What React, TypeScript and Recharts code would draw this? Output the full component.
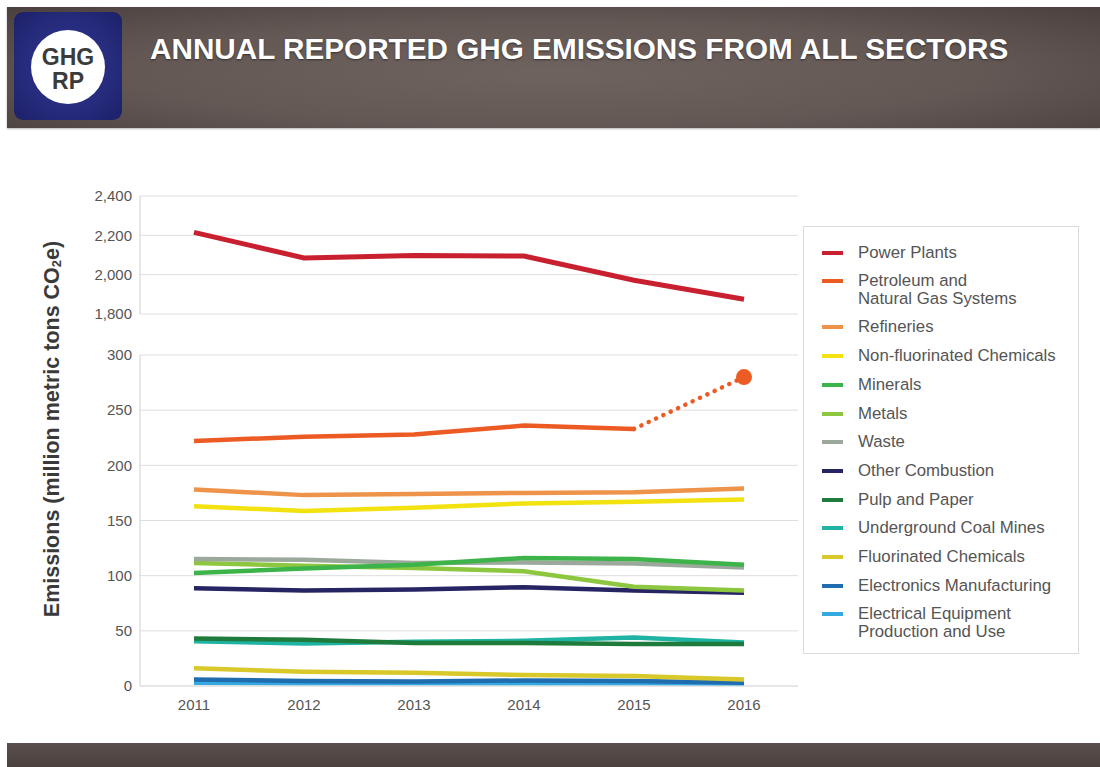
import React from 'react';
import { LineChart, Line, XAxis, YAxis, CartesianGrid } from 'recharts';

const years = ['2011', '2012', '2013', '2014', '2015', '2016'];

const powerPlants = [2215, 2085, 2097, 2095, 1972, 1875];
const petroleum = [222, 226, 228, 236, 233, null];
const petroleumAdded = [null, null, null, null, 233, 280];
const refineries = [178, 173, 174, 175, 175.5, 179];
const nonFluorinated = [163, 158.5, 161.5, 165.5, 167, 169];
const minerals = [102.5, 106.5, 110, 116, 115, 110];
const metals = [111.5, 109, 107, 104, 90, 86.5];
const waste = [115, 114.5, 111.5, 112, 111, 107.5];
const otherCombustion = [88.5, 86.5, 87.5, 89.5, 86.5, 84.5];
const pulpPaper = [43, 42, 39, 39, 38, 38];
const coalMines = [40.5, 38.5, 40, 41, 44, 39.5];
const fluorinated = [16, 13, 12, 10, 9, 6];
const electronics = [6, 4.5, 4, 5, 4.5, 3];
const electrical = [3, 2.5, 2.5, 2.5, 2.5, 2];

const topTicks = [1800, 2000, 2200, 2400];
const bottomTicks = [0, 50, 100, 150, 200, 250, 300];

const series = [
  { key: 'powerPlants', name: 'Power Plants', color: '#c8202f' },
  { key: 'petroleum', name: 'Petroleum and\nNatural Gas Systems', color: '#ec5b24' },
  { key: 'refineries', name: 'Refineries', color: '#ee934a' },
  { key: 'nonFluorinated', name: 'Non-fluorinated Chemicals', color: '#f2e20f' },
  { key: 'minerals', name: 'Minerals', color: '#3cb44a' },
  { key: 'metals', name: 'Metals', color: '#8dc63f' },
  { key: 'waste', name: 'Waste', color: '#9ba89b' },
  { key: 'otherCombustion', name: 'Other Combustion', color: '#272463' },
  { key: 'pulpPaper', name: 'Pulp and Paper', color: '#1e7b3c' },
  { key: 'coalMines', name: 'Underground Coal Mines', color: '#1fb3a3' },
  { key: 'fluorinated', name: 'Fluorinated Chemicals', color: '#d8c82a' },
  { key: 'electronics', name: 'Electronics Manufacturing', color: '#1f6cae' },
  { key: 'electrical', name: 'Electrical Equipment\nProduction and Use', color: '#35a9e0' },
];

const data = years.map((year, i) => ({
  year,
  powerPlants: powerPlants[i],
  petroleum: petroleum[i],
  petroleumAdded: petroleumAdded[i],
  refineries: refineries[i],
  nonFluorinated: nonFluorinated[i],
  minerals: minerals[i],
  metals: metals[i],
  waste: waste[i],
  otherCombustion: otherCombustion[i],
  pulpPaper: pulpPaper[i],
  coalMines: coalMines[i],
  fluorinated: fluorinated[i],
  electronics: electronics[i],
  electrical: electrical[i],
}));

const FONT = '"Liberation Sans", Arial, sans-serif';
const tickStyle = { fill: '#555', fontSize: 15, fontFamily: FONT };
const fmt = (v: number) => v.toLocaleString('en-US');

// draw order so that the colours overlap like in the picture
const bottomOrder = [
  'electrical', 'electronics', 'fluorinated', 'coalMines', 'pulpPaper',
  'otherCombustion', 'metals', 'waste', 'minerals', 'nonFluorinated',
  'refineries', 'petroleum',
];

const colorOf = (key: string) => series.find((s) => s.key === key)!.color;

const AddedDot = (props: any) => {
  const { cx, cy, index } = props;
  if (index !== years.length - 1) return <g key={`d${index}`} />;
  return <circle key={`d${index}`} cx={cx} cy={cy} r={8} fill={colorOf('petroleum')} />;
};

const Legend = () => (
  <div
    style={{
      position: 'absolute',
      left: 803,
      top: 226,
      width: 276,
      height: 428,
      border: '1px solid #dcdcdc',
      background: '#fff',
      paddingTop: 11,
      boxSizing: 'border-box',
      fontFamily: FONT,
    }}
  >
    {series.map((s) => (
      <div key={s.key} style={{ display: 'flex', alignItems: 'flex-start', padding: '5.6px 0 5.6px 18px' }}>
        <div style={{ width: 21, height: 4, background: s.color, marginTop: 7, flex: 'none' }} />
        <div
          style={{
            marginLeft: 15,
            fontSize: 16.8,
            lineHeight: '17.5px',
            color: '#555',
            whiteSpace: 'pre-line',
          }}
        >
          {s.name}
        </div>
      </div>
    ))}
  </div>
);

export default function App() {
  return (
    <div style={{ position: 'absolute', left: 0, top: 0, width: 1100, height: 767, background: '#fff', overflow: 'hidden' }}>
      {/* header band */}
      <div
        style={{
          position: 'absolute',
          left: 7,
          top: 7,
          width: 1093,
          height: 121,
          background: 'radial-gradient(ellipse at 50% 55%, #6f6360 0%, #645855 55%, #4a403d 100%)',
          boxShadow: '0 1px 2px rgba(0,0,0,0.3)',
        }}
      />
      <div
        style={{
          position: 'absolute',
          left: 14,
          top: 12,
          width: 108,
          height: 108,
          borderRadius: 9,
          background: 'radial-gradient(circle at 50% 50%, #2f3590 0%, #262b7c 60%, #1c2068 100%)',
        }}
      >
        <div
          style={{
            position: 'absolute',
            left: 17,
            top: 18,
            width: 74,
            height: 74,
            borderRadius: '50%',
            background: '#fff',
            display: 'flex',
            flexDirection: 'column',
            alignItems: 'center',
            justifyContent: 'center',
            paddingTop: 3,
            boxSizing: 'border-box',
            fontFamily: FONT,
            fontWeight: 700,
            fontSize: 23,
            lineHeight: '24px',
            color: '#3b3b3b',
          }}
        >
          <span>GHG</span>
          <span>RP</span>
        </div>
      </div>
      <div
        style={{
          position: 'absolute',
          left: 150,
          top: 32,
          fontFamily: FONT,
          fontWeight: 700,
          fontSize: 29.7,
          color: '#fff',
          whiteSpace: 'nowrap',
          textShadow: '0 1px 2px rgba(0,0,0,0.5)',
        }}
      >
        ANNUAL REPORTED GHG EMISSIONS FROM ALL SECTORS
      </div>

      {/* y axis title */}
      <div
        style={{
          position: 'absolute',
          left: 52 - 220,
          top: 429 - 14,
          width: 440,
          height: 28,
          lineHeight: '28px',
          textAlign: 'center',
          transform: 'rotate(-90deg)',
          fontFamily: FONT,
          fontWeight: 700,
          fontSize: 21.5,
          color: '#3a3a3a',
          whiteSpace: 'nowrap',
        }}
      >
        Emissions (million metric tons CO<sub style={{ fontSize: 13, verticalAlign: -2 }}>2</sub>e)
      </div>

      {/* upper part of the broken axis */}
      <div style={{ position: 'absolute', left: 0, top: 186 }}>
        <LineChart width={800} height={140} data={data} margin={{ top: 10, right: 2, left: 0, bottom: 12 }}>
          <CartesianGrid vertical={false} stroke="#dedede" />
          <XAxis dataKey="year" hide padding={{ left: 54, right: 54 }} />
          <YAxis
            width={140}
            domain={[1800, 2400]}
            ticks={topTicks}
            interval={0}
            tickFormatter={fmt}
            tick={tickStyle}
            tickLine={false}
            axisLine={{ stroke: '#cfcfcf' }}
          />
          <Line
            dataKey="powerPlants"
            stroke={colorOf('powerPlants')}
            strokeWidth={5}
            dot={false}
            isAnimationActive={false}
          />
        </LineChart>
      </div>

      {/* lower part of the broken axis */}
      <div style={{ position: 'absolute', left: 0, top: 345 }}>
        <LineChart width={800} height={380} data={data} margin={{ top: 10, right: 2, left: 0, bottom: 9 }}>
          <CartesianGrid vertical={false} stroke="#dedede" />
          <XAxis
            dataKey="year"
            height={30}
            padding={{ left: 54, right: 54 }}
            tick={tickStyle}
            tickMargin={7}
            tickLine={false}
            axisLine={{ stroke: '#dedede' }}
            interval={0}
          />
          <YAxis
            width={140}
            domain={[0, 300]}
            ticks={bottomTicks}
            interval={0}
            tick={tickStyle}
            tickLine={false}
            axisLine={{ stroke: '#cfcfcf' }}
          />
          {bottomOrder.map((key) => (
            <Line
              key={key}
              dataKey={key}
              stroke={colorOf(key)}
              strokeWidth={4.5}
              dot={false}
              isAnimationActive={false}
            />
          ))}
          <Line
            dataKey="petroleumAdded"
            stroke={colorOf('petroleum')}
            strokeWidth={4.5}
            strokeDasharray="0.1 8"
            strokeLinecap="round"
            dot={AddedDot}
            isAnimationActive={false}
          />
        </LineChart>
      </div>

      <Legend />

      {/* footer band */}
      <div
        style={{
          position: 'absolute',
          left: 7,
          top: 743,
          width: 1093,
          height: 24,
          background: 'linear-gradient(#5a4f4c, #4a403d)',
        }}
      />
    </div>
  );
}
